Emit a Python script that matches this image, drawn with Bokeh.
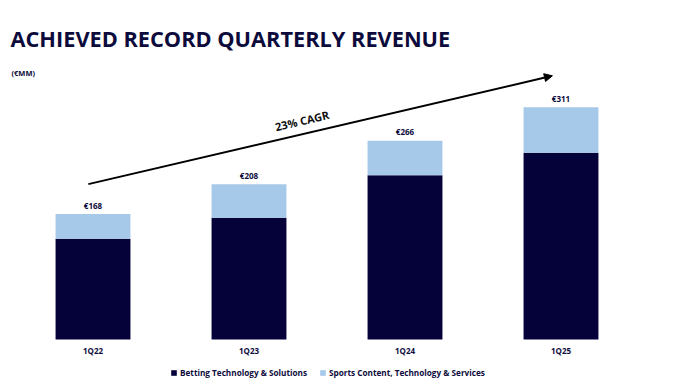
from bokeh.plotting import figure
from bokeh.models import (ColumnDataSource, FactorRange, Range1d, Label, Arrow,
                          NormalHead, Legend, LegendItem)
from bokeh.core.properties import value
from bokeh.embed import file_html
from bokeh.resources import INLINE

# ---- data ----
quarters = ["1Q22", "1Q23", "1Q24", "1Q25"]
betting_tech = [135, 163, 220, 250]
sports_content = [33, 45, 46, 61]
totals = [168, 208, 266, 311]
total_labels = ["€168", "€208", "€266", "€311"]
series_names = ["Betting Technology & Solutions", "Sports Content, Technology & Services"]
cagr_text = "23% CAGR"

DARK = "#05023a"
LIGHT = "#a7c9e9"
NAVY_TXT = "#0d0b3c"
FONT = "Open Sans"

W, H = 653, 384

src = ColumnDataSource(dict(q=quarters, bts=betting_tech, scts=sports_content,
                            tot=totals, lab=total_labels, zero=[0] * len(quarters)))

p = figure(width=W, height=H, output_backend="svg", toolbar_location=None,
           x_range=FactorRange(factors=quarters, range_padding=0.093,
                               range_padding_units="absolute"),
           y_range=Range1d(-60.2, 453.8),
           min_border_left=0, min_border_right=0, min_border_top=0, min_border_bottom=0)

p.outline_line_color = None
p.xgrid.visible = False
p.ygrid.visible = False
p.xaxis.visible = False
p.yaxis.visible = False
p.background_fill_color = "white"
p.border_fill_color = "white"

r = p.vbar_stack(["bts", "scts"], x="q", width=0.48, source=src,
                 color=[DARK, LIGHT], line_color=None)

# total value labels
p.text(x="q", y="tot", text="lab", source=src, y_offset=-9,
       text_align="center", text_baseline="middle",
       text_font=value(FONT), text_font_size="8px", text_font_style="bold",
       text_color=NAVY_TXT)

# category labels
p.text(x="q", y="zero", text="q", source=src, y_offset=11,
       text_align="center", text_baseline="middle",
       text_font=value(FONT), text_font_size="8px", text_font_style="bold",
       text_color=NAVY_TXT)

# CAGR arrow
p.add_layout(Arrow(x_start=0.47, y_start=totals[0] + 40, x_end=3.445, y_end=totals[-1] + 42,
                   line_color="black", line_width=2,
                   end=NormalHead(size=8, fill_color="black", line_color="black")))
p.add_layout(Label(x=1.84, y=293, text=cagr_text, angle=13.2, angle_units="deg",
                   text_align="center", text_baseline="middle",
                   text_font=FONT, text_font_size="11px", text_font_style="bold",
                   text_color="#111111"))

# Title and unit
p.add_layout(Label(x=10, y=H - 38, x_units="screen", y_units="screen",
                   text="ACHIEVED RECORD QUARTERLY REVENUE",
                   text_baseline="middle", text_font=FONT, text_font_size="21.75px",
                   text_font_style="bold", text_color=NAVY_TXT))
p.add_layout(Label(x=11, y=H - 72, x_units="screen", y_units="screen", text="(€MM)",
                   text_baseline="middle", text_font=FONT, text_font_size="7.5px",
                   text_font_style="bold", text_color=NAVY_TXT))

legend = Legend(items=[LegendItem(label=series_names[0], renderers=[r[0]]),
                       LegendItem(label=series_names[1], renderers=[r[1]])],
                orientation="horizontal", location=(170, H - 377.5),
                padding=0, margin=0, spacing=12, glyph_width=7, glyph_height=7,
                label_height=7, label_standoff=3, border_line_color=None,
                background_fill_alpha=0,
                label_text_font=FONT, label_text_font_size="8.2px",
                label_text_font_style="bold", label_text_color=NAVY_TXT)
p.add_layout(legend, "center")

open("out.html", "w").write(file_html(p, INLINE))
